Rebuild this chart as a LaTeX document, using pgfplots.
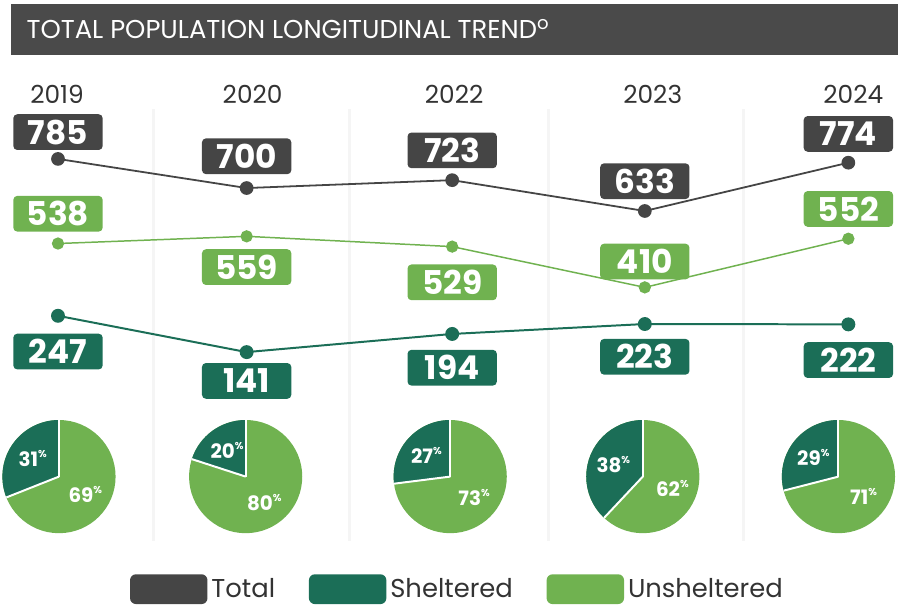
\documentclass[border=0pt]{standalone}
\usepackage{fontspec}
\setmainfont{Poppins}
\usepackage{pgfplots}
\pgfplotsset{compat=1.18}
\usepackage{pgfplotstable}

\definecolor{tot}{HTML}{454545}
\definecolor{shl}{HTML}{1B6E57}
\definecolor{uns}{HTML}{70B250}
\definecolor{titlebar}{HTML}{4A4A4A}
\definecolor{txt}{HTML}{333333}

% x = column position (px), y = count, dy = label offset in px (+ above)
\pgfplotstableread{
x y dy
52 785 27
242 700 32
449 723 30
643 633 30
848 774 29
}\totaltab
\pgfplotstableread{
x y dy
52 538 30
242 559 -31
449 529 -36
643 410 26
848 552 30
}\unsheltab
\pgfplotstableread{
x y dy
52 247 -36
242 141 -29
449 194 -34
643 223 -33
848 222 -36
}\sheltab

\pgfplotsset{
  trend/.style={
    at={(0pt,-306.5pt)}, anchor=south west,
    width=449pt, height=306.5pt, scale only axis,
    xmin=0, xmax=898,
    hide axis, clip=false,
    /pgf/number format/assume math mode=true,
  },
  boxed/.style={
    point meta=explicit, 
    visualization depends on={y \as \rawy},
    visualization depends on={\thisrow{dy} \as \dy},
    nodes near coords={\pgfmathprintnumber[fixed,precision=0]{\rawy}},
    every node near coord/.append style={anchor=center, yshift=\dy*0.5pt,
      text=white, font=\fontsize{16.5}{16.5}\selectfont\bfseries, fill=#1,
      rounded corners=2pt, minimum width=45pt, minimum height=18pt, inner sep=0pt},
  },
}

\begin{document}
\begin{tikzpicture}
\begin{scope}[x=0.5pt,y=-0.5pt]
  \path[use as bounding box] (0,0) rectangle (898,613);
  \fill[titlebar] (5,4) rectangle (898,55);
  \node[anchor=west, text=white, inner sep=0pt, font=\fontsize{13}{13}\selectfont] at (20,29)
    {TOTAL POPULATION LONGITUDINAL TREND\textsuperscript{o}};
  \foreach \sx in {148,346,546,742}
    \draw[gray!8, line width=1.5pt] (\sx,110) -- (\sx,545);
  \foreach \yx/\yr in {51/2019,248/2020,451/2022,651/2023,853/2024}
    \node[text=txt, font=\fontsize{12.5}{13}\selectfont] at (\yx,95) {\yr};
\end{scope}

\begin{axis}[trend, ymin=-528, ymax=1249,
  legend columns=3,
  legend image code/.code={\fill[rounded corners=3pt] (0pt,-7.5pt) rectangle (39pt,7.5pt);},
  legend style={draw=none, fill=none, at={(0.507,0.032)}, anchor=center,
    text=txt, font=\fontsize{13}{13}\selectfont,
    /tikz/every even column/.append style={column sep=15pt}},
]
\addlegendimage{fill=tot, draw=none}\addlegendentry{Total}
\addlegendimage{fill=shl, draw=none}\addlegendentry{Sheltered}
\addlegendimage{fill=uns, draw=none}\addlegendentry{Unsheltered}
\addplot[tot, line width=0.9pt, mark=*, mark size=3pt, forget plot, boxed=tot]
  table[x=x,y=y,meta=dy] {\totaltab};
\addplot[uns, line width=0.75pt, mark=*, mark size=2.7pt, forget plot, boxed=uns]
  table[x=x,y=y,meta=dy] {\unsheltab};
\end{axis}

\begin{axis}[trend, ymin=-608, ymax=1169]
\addplot[shl, line width=1pt, mark=*, mark size=3pt, boxed=shl]
  table[x=x,y=y,meta=dy] {\sheltab};
\end{axis}

\begin{scope}[x=0.5pt,y=-0.5pt]
  \foreach \cx/\p in {53/31,241/20,447/27,641/38,838/29} {
    \pgfmathtruncatemacro\q{100-\p}
    \begin{scope}[shift={(\cx,480)}]
      \fill[uns] (0,0) circle[radius=28.5pt];
      \fill[shl] (0,0) -- (90:28.5pt) arc[start angle=90, delta angle=3.6*\p, radius=28.5pt] -- cycle;
      \draw[white, line width=1pt] (0,0) -- (90:28.5pt);
      \draw[white, line width=1pt] (0,0) -- ({90+3.6*\p}:28.5pt);
      \node[text=white, font=\fontsize{10}{10}\selectfont\bfseries, inner sep=0pt]
        at ({90+1.8*\p}:16pt) {\p\raisebox{0.45em}{\fontsize{5}{5}\selectfont\%}};
      \node[text=white, font=\fontsize{10}{10}\selectfont\bfseries, inner sep=0pt]
        at ({90+3.6*\p+1.8*\q}:16pt) {\q\raisebox{0.45em}{\fontsize{5}{5}\selectfont\%}};
    \end{scope}
  }
\end{scope}
\end{tikzpicture}
\end{document}
